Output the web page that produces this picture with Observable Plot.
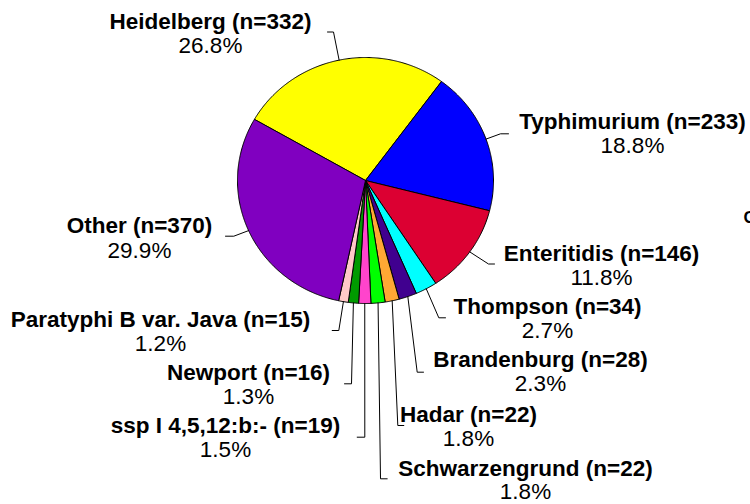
<!DOCTYPE html>
<html>
<head>
<meta charset="utf-8">
<script src="https://cdn.jsdelivr.net/npm/d3@7"></script>
<script src="https://cdn.jsdelivr.net/npm/@observablehq/plot@0.6"></script>
<style>
  html, body { margin: 0; padding: 0; background: #fff; overflow: hidden; }
  #chart { width: 750px; height: 504px; overflow: hidden; }
  #chart svg { overflow: hidden; }
</style>
</head>
<body>
<div id="chart"></div>
<script>
// ---- data (clockwise from Heidelberg) ----
const categories = ["Heidelberg", "Typhimurium", "Enteritidis", "Thompson", "Brandenburg",
  "Hadar", "Schwarzengrund", "ssp I 4,5,12:b:-", "Newport", "Paratyphi B var. Java", "Other"];
const counts = [332, 233, 146, 34, 28, 22, 22, 19, 16, 15, 370];

// ---- styles ----
const palette = ["#FFFF00", "#0000FF", "#DC0032", "#00FFFF", "#40008F",
  "#FFA834", "#00FF00", "#FF44CC", "#009A00", "#FFC8C8", "#8000C0"];

// ---- layout (pixel offsets relative to pie centre; converted to radius units) ----
const cx = 365, cy = 180, Rx = 128, Ry = 123;
const startAngle = -60.2; // degrees clockwise from 12 o'clock
// [title centre x, title baseline y, percent baseline y, elbow x, elbow y, end x]
const labelLayout = [
  [210, 28, 52, 333, 31.5, 327],
  [632, 128, 152, 500, 133.3, 508],
  [601, 260, 284, 488, 263.5, 494],
  [547, 313, 337, 438.3, 317.3, 445],
  [540, 366, 390, 416.7, 371.7, 423],
  [468, 421, 445, 397.3, 425, 403.3],
  [525, 475, 498, 380, 478.3, 386.7],
  [225, 432, 456, 364.3, 436.7, 356.7],
  [248, 379, 403, 351, 383.3, 344],
  [160, 326, 350, 338.3, 330, 331.7],
  [139, 232, 257, 233.3, 235.7, 225]
];
const toX = px => (px - cx) / Rx;
const toY = py => (cy - py) / Ry;

const total = d3.sum(counts);
const rad = deg => deg * Math.PI / 180;
let acc = startAngle;
const slices = counts.map((c, i) => {
  const a0 = acc, a1 = acc + c / total * 360;
  acc = a1;
  const pts = [{x: 0, y: 0}];
  const n = Math.max(2, Math.ceil((a1 - a0) / 0.5));
  for (let k = 0; k <= n; k++) {
    const a = rad(a0 + (a1 - a0) * k / n);
    pts.push({x: Math.sin(a), y: Math.cos(a)});
  }
  pts.push({x: 0, y: 0});
  const mid = rad((a0 + a1) / 2);
  return {name: categories[i], count: c, color: palette[i], pts, mid};
});

const labels = slices.map((s, i) => {
  const L = labelLayout[i];
  return {
    title: `${s.name} (n=${s.count})`,
    pct: (s.count / total * 100).toFixed(1) + "%",
    x: toX(L[0]), yTitle: toY(L[1]), yPct: toY(L[2]),
    leader: [
      {x: Math.sin(s.mid), y: Math.cos(s.mid)},
      {x: toX(L[3]), y: toY(L[4])},
      {x: toX(L[5]), y: toY(L[4])}
    ]
  };
});

const font = "'Liberation Sans', Arial, Helvetica, sans-serif";

const marks = [];
slices.forEach(s => {
  marks.push(Plot.line(s.pts, {x: "x", y: "y", fill: s.color, stroke: "black",
    strokeWidth: 1, strokeLinejoin: "miter", curve: "linear"}));
});
labels.forEach(l => {
  marks.push(Plot.line(l.leader, {x: "x", y: "y", stroke: "black", strokeWidth: 1, curve: "linear"}));
});
marks.push(Plot.text(labels, {x: "x", y: "yTitle", text: "title", fontWeight: "bold",
  fontSize: 22.5, fontFamily: font, lineAnchor: "bottom", textAnchor: "middle", fill: "black"}));
marks.push(Plot.text(labels, {x: "x", y: "yPct", text: "pct",
  fontSize: 22.5, fontFamily: font, lineAnchor: "bottom", textAnchor: "middle", fill: "black"}));
// partially visible text at the right edge
marks.push(Plot.text(["C"], {x: toX(743), y: toY(222), text: d => d, fontWeight: "bold",
  fontSize: 17, fontFamily: font, lineAnchor: "bottom", textAnchor: "start", fill: "black"}));

const chart = Plot.plot({
  width: 750,
  height: 504,
  marginLeft: cx - Rx,
  marginRight: 750 - (cx + Rx),
  marginTop: cy - Ry,
  marginBottom: 504 - (cy + Ry),
  x: {domain: [-1, 1], axis: null},
  y: {domain: [-1, 1], axis: null},
  style: {background: "white", fontFamily: font},
  marks
});
document.getElementById("chart").appendChild(chart);
</script>
</body>
</html>
